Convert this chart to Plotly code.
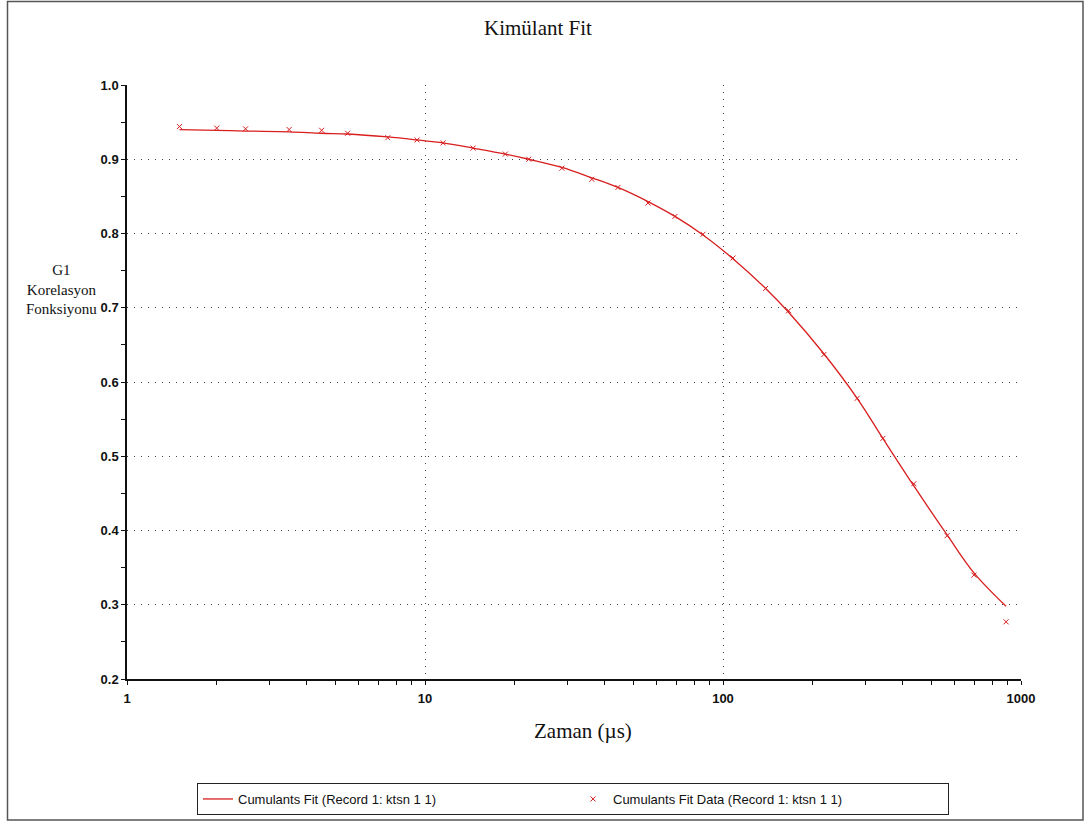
import plotly.graph_objects as go

# Data
data_t = [1.5, 2.0, 2.5, 3.5, 4.5, 5.5, 7.5, 9.4, 11.5, 14.5, 18.6, 22.3, 28.8, 36.3,
          44.4, 56.0, 69.0, 85.7, 108, 139, 166, 218, 282, 344, 437, 565, 695, 891]
data_g1 = [0.944, 0.942, 0.941, 0.940, 0.939, 0.935, 0.929, 0.926, 0.922, 0.915, 0.907,
           0.900, 0.888, 0.873, 0.862, 0.841, 0.823, 0.799, 0.767, 0.726, 0.696, 0.637,
           0.578, 0.524, 0.463, 0.393, 0.340, 0.277]
fit_g1 = [0.940, 0.939, 0.938, 0.937, 0.935, 0.934, 0.930, 0.926, 0.922, 0.915, 0.907,
          0.900, 0.889, 0.875, 0.862, 0.843, 0.823, 0.798, 0.766, 0.726, 0.694, 0.638,
          0.578, 0.524, 0.460, 0.394, 0.343, 0.298]

x_ticks = [1, 10, 100, 1000]
x_tick_text = ["1", "10", "100", "1000"]
y_ticks = [0.2, 0.3, 0.4, 0.5, 0.6, 0.7, 0.8, 0.9, 1.0]
y_tick_text = ["0.2", "0.3", "0.4", "0.5", "0.6", "0.7", "0.8", "0.9", "1.0"]
x_minor = [m * d for d in (1, 10, 100) for m in range(2, 10)]

RED = "#d81e1e"

fig = go.Figure()
fig.add_trace(go.Scatter(
    x=data_t, y=fit_g1, mode="lines", line=dict(color=RED, width=1.3, shape="spline"),
    name="Cumulants Fit (Record 1: ktsn 1 1)"))
fig.add_trace(go.Scatter(
    x=data_t, y=data_g1, mode="markers",
    marker=dict(symbol="x-thin", size=5, line=dict(color=RED, width=1), color=RED),
    name="Cumulants Fit Data (Record 1: ktsn 1 1)"))

W, H = 1092, 827
L, R, T, B = 127, 71, 85, 148
pw, ph = W - L - R, H - T - B

def px_x(p):
    return (p - L) / pw

def px_y(p):
    return (H - B - p) / ph

fig.update_layout(
    width=W, height=H,
    margin=dict(l=L, r=R, t=T, b=B, autoexpand=False),
    paper_bgcolor="white", plot_bgcolor="white",
    title=dict(text="Kimülant Fit", x=538 / W, xref="container", xanchor="center",
               y=1 - 28 / H, yref="container", yanchor="middle",
               font=dict(family="Liberation Serif", size=21, color="#111")),
    showlegend=True,
    legend=dict(orientation="h", x=197 / W, y=1 - 783 / H, xref="container",
                yref="container", xanchor="left", yanchor="top",
                bordercolor="#222", borderwidth=1, bgcolor="white",
                font=dict(family="Liberation Sans", size=13, color="#111"),
                entrywidth=330, entrywidthmode="pixels", itemsizing="trace",
                tracegroupgap=0),
    xaxis=dict(type="log", range=[0, 3], tickvals=x_ticks, ticktext=x_tick_text,
               showline=True, linecolor="#111", linewidth=1.5,
               ticks="outside", ticklen=4, tickcolor="#111", ticklabelstandoff=3,
               minor=dict(tickvals=x_minor, ticks="outside", ticklen=4, tickcolor="#111",
                          showgrid=False),
               showgrid=True, gridcolor="#444", griddash="1px,6px", gridwidth=1,
               zeroline=False,
               tickfont=dict(family="Liberation Sans", size=13, color="#111", weight="bold")),
    yaxis=dict(range=[0.2, 1.0], tickvals=y_ticks, ticktext=y_tick_text,
               showline=True, linecolor="#111", linewidth=1.5,
               ticks="outside", ticklen=4, tickcolor="#111",
               minor=dict(dtick=0.05, ticks="outside", ticklen=4, tickcolor="#111",
                          showgrid=False),
               showgrid=True, gridcolor="#444", griddash="1px,6px", gridwidth=1,
               zeroline=False,
               tickfont=dict(family="Liberation Sans", size=13, color="#111", weight="bold")),
    annotations=[
        dict(text="Zaman (µs)", x=px_x(583), y=px_y(731), xref="paper", yref="paper",
             showarrow=False, xanchor="center", yanchor="middle",
             font=dict(family="Liberation Serif", size=21, color="#111")),
        dict(text="G1<br>Korelasyon<br>Fonksiyonu", x=px_x(61), y=px_y(289),
             xref="paper", yref="paper", showarrow=False, xanchor="center",
             yanchor="middle", align="center",
             font=dict(family="Liberation Serif", size=15, color="#111")),
    ],
    shapes=[
        dict(type="rect", xref="paper", yref="paper",
             x0=px_x(7.5), x1=px_x(1083), y0=px_y(820), y1=px_y(1.5),
             line=dict(color="#555", width=1.5), fillcolor="rgba(0,0,0,0)", layer="below"),
    ],
)

fig.write_html("out.html")
